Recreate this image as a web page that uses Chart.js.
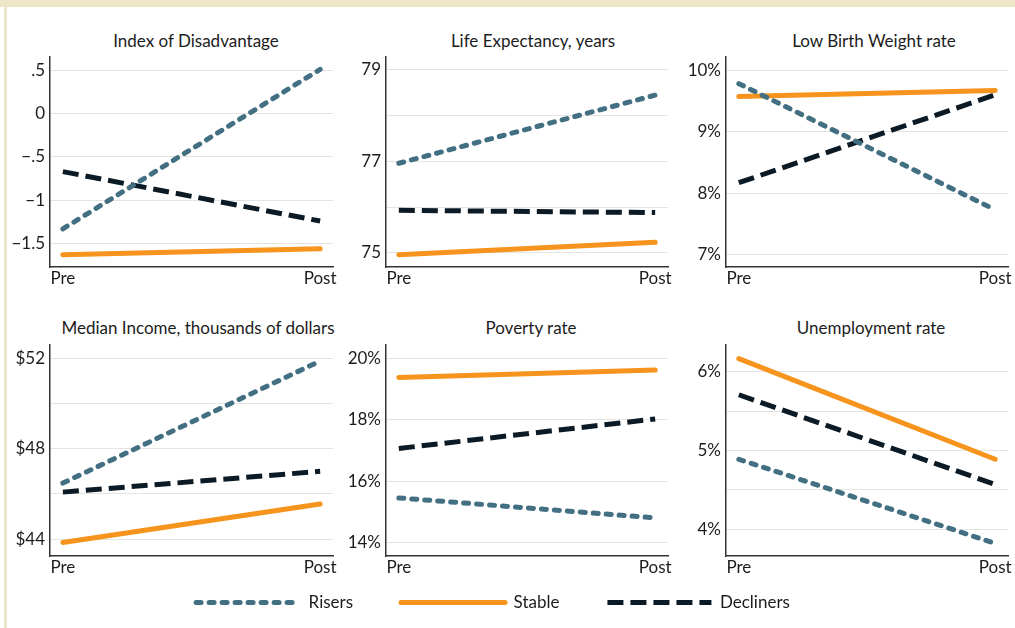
<!DOCTYPE html>
<html>
<head>
<meta charset="utf-8">
<script src="https://cdn.jsdelivr.net/npm/chart.js@4"></script>
<style>
html, body { margin: 0; padding: 0; background: #ffffff; }
body { width: 1015px; height: 628px; position: relative; overflow: hidden; font-family: Lato, "Noto Sans", sans-serif; }
.frameTop { position: absolute; left: 0; top: 0; width: 1015px; height: 7px; background: #efe5c7; }
.frameLeft { position: absolute; left: 4px; top: 0; width: 3px; height: 628px; background: #efe5c7; }
.title { position: absolute; width: 400px; text-align: center; font-family: Lato, sans-serif; font-size: 17px; line-height: 20px; color: #1c1c1c; white-space: nowrap; }
canvas { position: absolute; }
</style>
</head>
<body>
<div class="frameTop"></div>
<div class="frameLeft"></div>

<div class="title" id="t0" style="left:-4px;top:31px;"></div>
<div class="title" id="t1" style="left:333px;top:31px;"></div>
<div class="title" id="t2" style="left:674px;top:31px;"></div>
<div class="title" id="t3" style="left:-2px;top:318px;"></div>
<div class="title" id="t4" style="left:331px;top:318px;"></div>
<div class="title" id="t5" style="left:671px;top:318px;"></div>

<canvas id="c0"></canvas>
<canvas id="c1"></canvas>
<canvas id="c2"></canvas>
<canvas id="c3"></canvas>
<canvas id="c4"></canvas>
<canvas id="c5"></canvas>
<canvas id="legend"></canvas>

<script>
// ---------- DATA ----------
const categories = ['Pre', 'Post'];
const seriesNames = ['Risers', 'Stable', 'Decliners'];
const panelTitles = [
  'Index of Disadvantage',
  'Life Expectancy, years',
  'Low Birth Weight rate',
  'Median Income, thousands of dollars',
  'Poverty rate',
  'Unemployment rate'
];

const idxRisers = [-1.33, 0.51];
const idxStable = [-1.63, -1.56];
const idxDecliners = [-0.67, -1.24];

const lifeRisers = [76.96, 78.45];
const lifeStable = [74.96, 75.23];
const lifeDecliners = [75.93, 75.88];

const lbwRisers = [9.78, 7.73];
const lbwStable = [9.57, 9.67];
const lbwDecliners = [8.17, 9.60];

const incRisers = [46.48, 51.89];
const incStable = [43.85, 45.55];
const incDecliners = [46.08, 47.00];

const povRisers = [15.46, 14.81];
const povStable = [19.38, 19.62];
const povDecliners = [17.07, 18.03];

const unRisers = [4.89, 3.82];
const unStable = [6.17, 4.89];
const unDecliners = [5.71, 4.57];

// tick values and labels
const idxTickVals = [-1.5, -1, -0.5, 0, 0.5];
const idxTickLabels = ['\u22121.5', '\u22121', '\u2212.5', '0', '.5'];
const lifeTickVals = [75, 76, 77, 78, 79];
const lifeTickLabels = ['75', '', '77', '', '79'];
const lbwTickVals = [7, 8, 9, 10];
const lbwTickLabels = ['7%', '8%', '9%', '10%'];
const incTickVals = [44, 46, 48, 50, 52];
const incTickLabels = ['$44', '', '$48', '', '$52'];
const povTickVals = [14, 16, 18, 20];
const povTickLabels = ['14%', '16%', '18%', '20%'];
const unTickVals = [4, 4.5, 5, 5.5, 6];
const unTickLabels = ['4%', '', '5%', '', '6%'];

// ---------- STYLE ----------
const TEAL = '#436f82';
const ORANGE = '#f7941d';
const DARK = '#0b1a24';
const TEXT = '#1c1c1c';
const AXIS = '#333333';
const GRID = '#e4e4e4';
const FONT = { family: 'Lato', size: 17 };

const seriesStyle = {
  Risers:    { borderColor: TEAL,   borderDash: [5, 8],  borderCapStyle: 'round' },
  Stable:    { borderColor: ORANGE, borderDash: [],      borderCapStyle: 'round' },
  Decliners: { borderColor: DARK,   borderDash: [16, 7], borderCapStyle: 'butt' }
};

function makeDataset(name, values) {
  const st = seriesStyle[name];
  return {
    label: name,
    data: values.map((v, i) => ({ x: i, y: v })),
    borderColor: st.borderColor,
    backgroundColor: st.borderColor,
    borderDash: st.borderDash,
    borderCapStyle: st.borderCapStyle,
    borderWidth: 5,
    pointRadius: 0,
    tension: 0,
    fill: false
  };
}

function panel(id, box, vals, tickVals, tickLabels, series) {
  const c = document.getElementById(id);
  c.width = box.w; c.height = box.h;
  c.style.left = box.l + 'px'; c.style.top = box.t + 'px';
  c.style.width = box.w + 'px'; c.style.height = box.h + 'px';
  new Chart(c, {
    type: 'line',
    data: { datasets: seriesNames.map((n, k) => makeDataset(n, series[k])) },
    options: {
      responsive: false,
      animation: false,
      devicePixelRatio: 1,
      layout: { padding: { top: 15, right: box.pr, bottom: 0, left: 0 } },
      plugins: { legend: { display: false }, tooltip: { enabled: false }, title: { display: false } },
      scales: {
        x: {
          type: 'linear', min: -0.05, max: 1.05,
          grid: { display: false },
          border: { display: true, color: AXIS, width: 1.5 },
          afterBuildTicks: sc => { sc.ticks = categories.map((_, i) => ({ value: i })); },
          afterFit: sc => { sc.height = 25; },
          ticks: { padding: -7, color: TEXT, font: FONT, maxRotation: 0, autoSkip: false,
                   callback: v => categories[v] }
        },
        y: {
          type: 'linear', min: vals[0], max: vals[1],
          grid: { color: GRID, lineWidth: 1, drawTicks: false },
          border: { display: true, color: AXIS, width: 1.5 },
          afterBuildTicks: sc => { sc.ticks = tickVals.map(v => ({ value: v })); },
          afterFit: sc => { sc.width = box.yw; },
          ticks: { padding: 5, color: TEXT, font: FONT, autoSkip: false,
                   callback: v => { const k = tickVals.indexOf(v); return k >= 0 ? tickLabels[k] : ''; } }
        }
      }
    }
  });
}

function build() {
  panelTitles.forEach((t, i) => { document.getElementById('t' + i).textContent = t; });

  const top1 = 42, h1 = 250;   // chart area 57..267
  const top2 = 330, h2 = 251;  // chart area 345..556
  panel('c0', { l: 0,   t: top1, w: 343, h: h1, yw: 50, pr: 10 }, [-1.77, 0.65], idxTickVals, idxTickLabels, [idxRisers, idxStable, idxDecliners]);
  panel('c1', { l: 340, t: top1, w: 338, h: h1, yw: 46, pr: 10 }, [74.69, 79.28], lifeTickVals, lifeTickLabels, [lifeRisers, lifeStable, lifeDecliners]);
  panel('c2', { l: 680, t: top1, w: 338, h: h1, yw: 46, pr: 10 }, [6.80, 10.21], lbwTickVals, lbwTickLabels, [lbwRisers, lbwStable, lbwDecliners]);
  panel('c3', { l: 0,   t: top2, w: 343, h: h2, yw: 50, pr: 10 }, [43.25, 52.59], incTickVals, incTickLabels, [incRisers, incStable, incDecliners]);
  panel('c4', { l: 340, t: top2, w: 338, h: h2, yw: 46, pr: 10 }, [13.57, 20.43], povTickVals, povTickLabels, [povRisers, povStable, povDecliners]);
  panel('c5', { l: 680, t: top2, w: 338, h: h2, yw: 46, pr: 10 }, [3.66, 6.34], unTickVals, unTickLabels, [unRisers, unStable, unDecliners]);

  // legend
  const lc = document.getElementById('legend');
  lc.width = 986; lc.height = 260;
  lc.style.left = '0px'; lc.style.top = '546px';
  lc.style.width = '986px'; lc.style.height = '260px';
  const baseLabels = Chart.defaults.plugins.legend.labels.generateLabels;
  new Chart(lc, {
    type: 'line',
    data: { datasets: seriesNames.map(n => makeDataset(n, [])) },
    options: {
      responsive: false, animation: false, devicePixelRatio: 1,
      layout: { padding: 0 },
      plugins: {
        tooltip: { enabled: false },
        legend: {
          display: true, position: 'top',
          labels: {
            usePointStyle: true, pointStyle: 'line', pointStyleWidth: 104,
            padding: 48, color: TEXT, font: FONT,
            generateLabels: chart => baseLabels(chart).map(item => {
              const ds = chart.data.datasets[item.datasetIndex];
              item.lineDash = ds.borderDash;
              item.lineCap = ds.borderCapStyle;
              item.strokeStyle = ds.borderColor;
              item.fillStyle = ds.borderColor;
              item.lineWidth = ds.borderWidth;
              return item;
            })
          }
        }
      },
      scales: { x: { display: false }, y: { display: false } }
    }
  });
}

if (document.fonts && document.fonts.load) {
  document.fonts.load('17px Lato').then(build, build);
} else {
  build();
}
</script>
</body>
</html>
